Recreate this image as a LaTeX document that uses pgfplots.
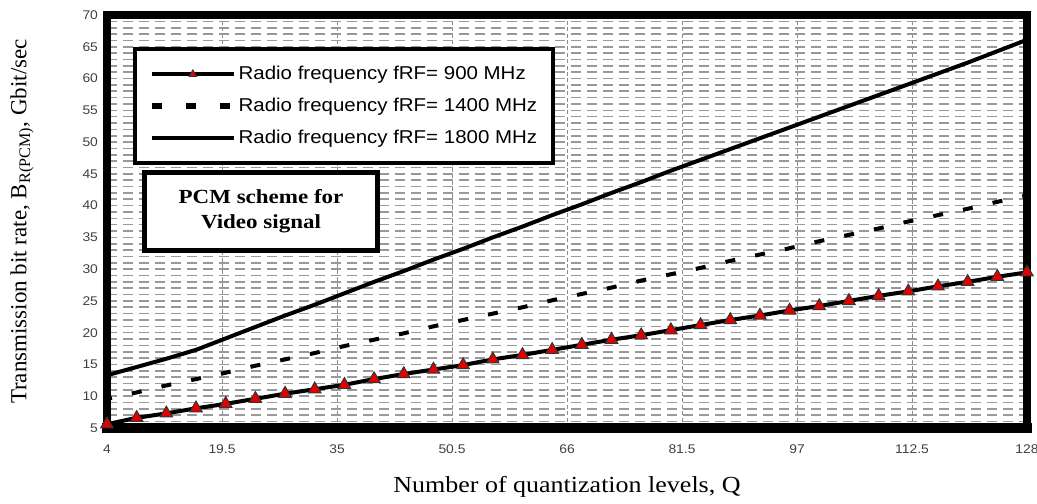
\documentclass[border=0pt]{standalone}
\usepackage{fontspec}
\setmainfont{Liberation Serif}
\newfontfamily\arial{Liberation Sans}
\newfontfamily\arialwide[FakeStretch=1.1]{Liberation Sans}
\newfontfamily\arialtick[FakeStretch=1.1]{Liberation Sans}
\newfontfamily\timeswide[FakeStretch=1.13]{Liberation Serif}
\newfontfamily\timesboldwide[FakeStretch=1.15]{Liberation Serif Bold}
\usepackage{pgfplots}
\usepackage{pgfplotstable}
\pgfplotsset{compat=1.18}

\pgfplotstableread{
Q f900 f1400 f1800
4 5.6 9.6 13.3
8 6.6 10.6 14.6
12 7.3 11.7 15.9
16 8.1 12.7 17.3
20 8.8 13.7 19.1
24 9.6 14.8 20.9
28 10.4 15.8 22.7
32 11.1 16.8 24.4
36 11.8 17.9 26.2
40 12.7 18.9 28.0
44 13.5 19.9 29.7
48 14.2 21.0 31.5
52 14.9 22.0 33.2
56 15.8 23.0 35.0
60 16.5 24.0 36.7
64 17.3 25.1 38.5
68 18.1 26.1 40.2
72 18.9 27.1 42.0
76 19.6 28.2 43.7
80 20.4 29.2 45.5
84 21.2 30.2 47.2
88 22.0 31.3 48.9
92 22.7 32.3 50.6
96 23.5 33.3 52.3
100 24.2 34.4 54.0
104 25.0 35.4 55.7
108 25.8 36.4 57.4
112 26.5 37.5 59.1
116 27.3 38.5 60.8
120 28.0 39.5 62.5
124 28.8 40.6 64.3
128 29.5 41.6 66.1
}\datatable

\begin{document}
\begin{tikzpicture}
\begin{axis}[
  at={(0pt,0pt)}, anchor=south west,
  width=460pt, height=206.5pt, scale only axis,
  xmin=4, xmax=128, ymin=5, ymax=70,
  clip=false,
  xtick={4,19.5,35,50.5,66,81.5,97,112.5,128},
  xticklabels={4,19.5,35,50.5,66,81.5,97,112.5,128},
  ytick={5,10,...,70},
  minor y tick num=4,
  major tick length=0pt, minor tick length=0pt,
  xmajorgrids, ymajorgrids, yminorgrids,
  x grid style={black!45, line width=0.5pt, dash pattern=on 2pt off 1.2pt},
  y grid style={black!40, line width=0.8pt, dash pattern=on 5pt off 3pt},
  axis line style={line width=4pt, line cap=rect},
  ticklabel style={font=\arialtick\fontsize{6.3}{7}\selectfont, text=black!75},
  /pgf/number format/assume math mode=true,
  xticklabel style={yshift=-5pt},
  yticklabel style={xshift=-1pt},
  legend style={at={(rel axis cs:0.0283,0.922)}, anchor=north west, draw=black, line width=2pt, fill=white,
    font=\arialwide\fontsize{9.3}{11}\selectfont, row sep=5pt, inner xsep=7pt, inner ysep=7pt,
    nodes={inner xsep=1pt, inner ysep=1pt, text height=7pt, text depth=2pt}, cells={anchor=west}},
  legend image code/.code={\draw[mark repeat=2,mark phase=2,#1] plot coordinates {(0pt,0pt) (20.5pt,0pt) (41pt,0pt)};},
]
\addlegendimage{black, line width=2.2pt, mark=triangle*, mark size=2.2pt, mark options={solid, fill=red!90!black, draw=black!80, line width=0.4pt}}
\addlegendentry{Radio frequency fRF= 900 MHz}
\addlegendimage{black, line width=2.8pt, dash pattern=on 5pt off 12pt}
\addlegendentry{Radio frequency fRF= 1400 MHz}
\addlegendimage{black, line width=2.2pt}
\addlegendentry{Radio frequency fRF= 1800 MHz}

\addplot[forget plot, black, line width=2pt] table[x=Q, y=f1800] {\datatable};
\addplot[forget plot, black, line width=2pt, dash pattern=on 5pt off 10.2pt, dash phase=2.5pt] table[x=Q, y=f1400] {\datatable};
\addplot[forget plot, black, line width=2pt, mark=triangle*, mark size=3.6pt, mark options={fill=red!90!black, draw=black!80, line width=0.5pt}] table[x=Q, y=f900] {\datatable};

\draw[line width=5pt, line cap=rect] (rel axis cs:0,0) -- (rel axis cs:1,0);

\node[draw=black, line width=2.5pt, fill=white, minimum width=116.5pt, minimum height=39pt, align=center,
  font=\timesboldwide\fontsize{10}{12.5}\selectfont] at (rel axis cs:0.1674,0.5242) {PCM scheme for\\Video signal};
\end{axis}
\node[font=\timeswide\fontsize{11.5}{13}\selectfont] at (230pt,-29.5pt) {Number of quantization levels, Q};
\node[rotate=90, font=\fontsize{11.5}{13}\selectfont] at (-42.5pt,103.25pt) {Transmission bit rate, B\textsubscript{R(PCM)}, Gbit/sec};
\pgfresetboundingbox
\path (-53.5pt,-37.5pt) rectangle (465pt,214pt);
\end{tikzpicture}
\end{document}
